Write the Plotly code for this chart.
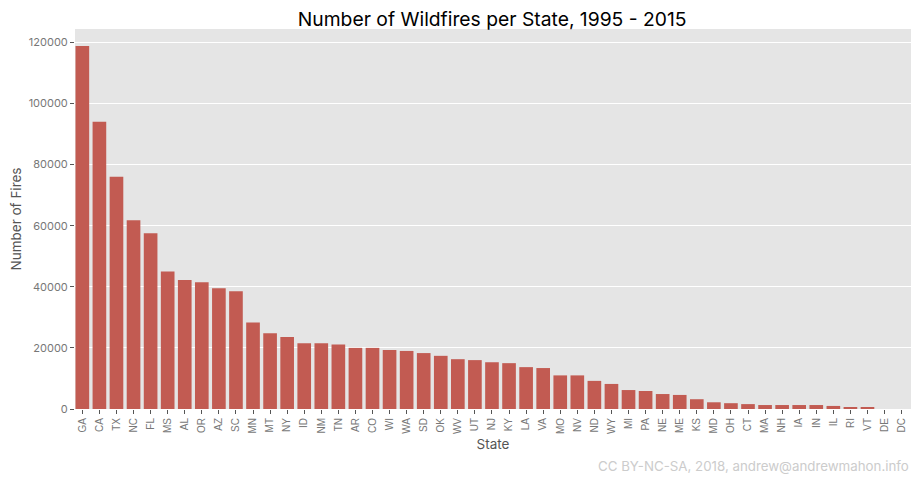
import plotly.graph_objects as go

states = ["GA", "CA", "TX", "NC", "FL", "MS", "AL", "OR", "AZ", "SC", "MN", "MT", "NY", "ID", "NM", "TN",
          "AR", "CO", "WI", "WA", "SD", "OK", "WV", "UT", "NJ", "KY", "LA", "VA", "MO", "NV", "ND", "WY",
          "MI", "PA", "NE", "ME", "KS", "MD", "OH", "CT", "MA", "NH", "IA", "IN", "IL", "RI", "VT", "DE", "DC"]
fires = [118800, 94000, 76000, 61800, 57500, 45000, 42200, 41500, 39500, 38500, 28300, 24800, 23600, 21500,
         21500, 21100, 20000, 20000, 19300, 19000, 18300, 17400, 16300, 16000, 15300, 15000, 13700, 13400,
         11000, 11000, 9200, 8200, 6200, 5900, 4900, 4600, 3200, 2200, 1900, 1600, 1300, 1300, 1300, 1300,
         1000, 400, 400, 0, 0]
y_ticks = [0, 20000, 40000, 60000, 80000, 100000, 120000]

FONT = "Inter"

fig = go.Figure(go.Bar(x=states, y=fires, width=0.8, marker=dict(color="#c25b52", line=dict(width=0))))

# page has an 8px body margin, so the figure is offset by that much
fig.update_layout(
    width=905,
    height=472,
    autosize=False,
    margin=dict(l=67, r=2, t=21, b=71),
    plot_bgcolor="#e5e5e5",
    paper_bgcolor="white",
    font=dict(family=FONT),
    showlegend=False,
    title=dict(text="Number of Wildfires per State, 1995 - 2015", x=0.535, xanchor="center", y=0.976,
               yanchor="middle", font=dict(size=19.3, color="black", family=FONT)),
    annotations=[dict(text="CC BY-NC-SA, 2018, andrew@andrewmahon.info", xref="paper", yref="paper",
                      x=1, y=-0.15, xanchor="right", yanchor="middle", showarrow=False,
                      font=dict(size=13.3, color="#cccccc", family=FONT))],
)
fig.update_xaxes(
    type="category",
    range=[-0.43, 48.55],
    tickangle=-90,
    ticks="outside",
    ticklen=4,
    tickcolor="#555555",
    tickfont=dict(size=10, color="#777777", family="Liberation Sans"),
    showgrid=False,
    zeroline=False,
    title=dict(text="State", font=dict(size=13.5, color="#555555"), standoff=6),
)
fig.update_yaxes(
    range=[0, 124350],
    tickvals=y_ticks,
    tickformat="d",
    ticks="outside",
    ticklen=4,
    tickcolor="#555555",
    tickfont=dict(size=11, color="#777777"),
    gridcolor="white",
    gridwidth=1,
    zeroline=False,
    title=dict(text="Number of Fires", font=dict(size=13.5, color="#555555"), standoff=8),
)

fig.write_html("out.html")
